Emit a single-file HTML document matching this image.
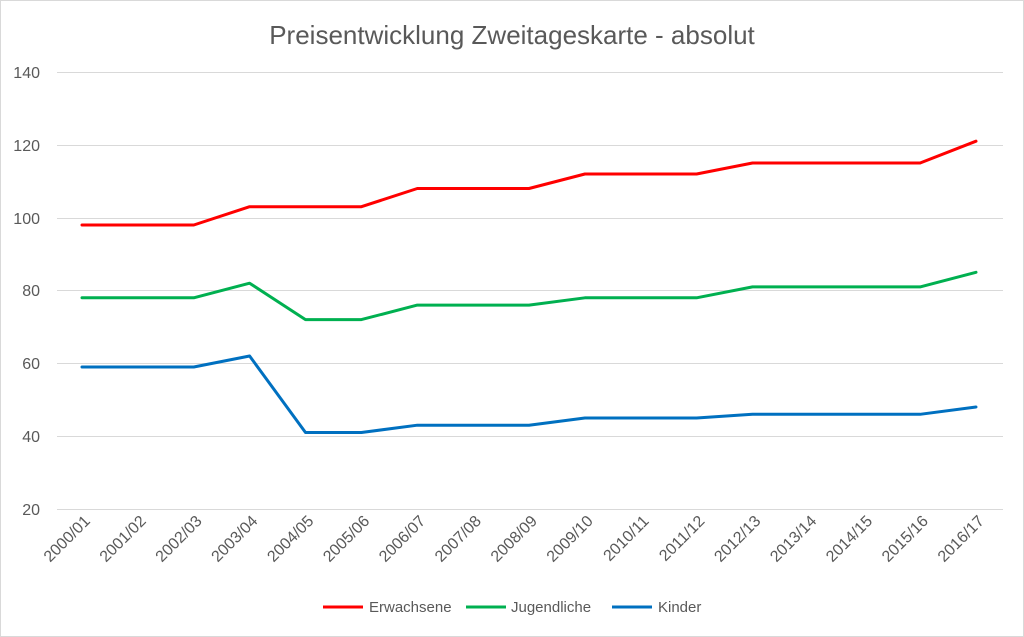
<!DOCTYPE html>
<html><head><meta charset="utf-8"><style>
html,body{margin:0;padding:0;background:#fff}
svg{display:block}
text{font-family:"Liberation Sans",sans-serif;fill:#595959}
</style></head><body>
<svg width="1024" height="637" viewBox="0 0 1024 637">
<rect x="0.5" y="0.5" width="1023" height="636" fill="#fff" stroke="#d9d9d9"/>
<text x="512" y="44" font-size="26" text-anchor="middle">Preisentwicklung Zweitageskarte - absolut</text>
<g stroke="#d9d9d9" stroke-width="1">
<line x1="57" x2="1003" y1="72.5" y2="72.5"/>
<line x1="57" x2="1003" y1="145.5" y2="145.5"/>
<line x1="57" x2="1003" y1="218.5" y2="218.5"/>
<line x1="57" x2="1003" y1="290.5" y2="290.5"/>
<line x1="57" x2="1003" y1="363.5" y2="363.5"/>
<line x1="57" x2="1003" y1="436.5" y2="436.5"/>
<line x1="57" x2="1003" y1="509.5" y2="509.5"/>
</g>
<g font-size="16" text-anchor="end">
<text x="40" y="78">140</text>
<text x="40" y="151">120</text>
<text x="40" y="224">100</text>
<text x="40" y="296">80</text>
<text x="40" y="369">60</text>
<text x="40" y="442">40</text>
<text x="40" y="515">20</text>
</g>
<g font-size="16" text-anchor="end">
<text transform="translate(91,522) rotate(-45)">2000/01</text>
<text transform="translate(146.9,522) rotate(-45)">2001/02</text>
<text transform="translate(202.8,522) rotate(-45)">2002/03</text>
<text transform="translate(258.6,522) rotate(-45)">2003/04</text>
<text transform="translate(314.5,522) rotate(-45)">2004/05</text>
<text transform="translate(370.4,522) rotate(-45)">2005/06</text>
<text transform="translate(426.3,522) rotate(-45)">2006/07</text>
<text transform="translate(482.1,522) rotate(-45)">2007/08</text>
<text transform="translate(538,522) rotate(-45)">2008/09</text>
<text transform="translate(593.9,522) rotate(-45)">2009/10</text>
<text transform="translate(649.8,522) rotate(-45)">2010/11</text>
<text transform="translate(705.6,522) rotate(-45)">2011/12</text>
<text transform="translate(761.5,522) rotate(-45)">2012/13</text>
<text transform="translate(817.4,522) rotate(-45)">2013/14</text>
<text transform="translate(873.3,522) rotate(-45)">2014/15</text>
<text transform="translate(929.1,522) rotate(-45)">2015/16</text>
<text transform="translate(985,522) rotate(-45)">2016/17</text>
</g>
<g fill="none" stroke-width="3" stroke-linejoin="round" stroke-linecap="round">
<polyline stroke="#ff0000" points="82,225 137.9,225 193.8,225 249.6,206.7 305.5,206.7 361.4,206.7 417.3,188.5 473.1,188.5 529,188.5 584.9,174 640.8,174 696.6,174 752.5,163 808.4,163 864.3,163 920.1,163 976,141.2"/>
<polyline stroke="#00b050" points="82,297.8 137.9,297.8 193.8,297.8 249.6,283.2 305.5,319.6 361.4,319.6 417.3,305.1 473.1,305.1 529,305.1 584.9,297.8 640.8,297.8 696.6,297.8 752.5,286.9 808.4,286.9 864.3,286.9 920.1,286.9 976,272.3"/>
<polyline stroke="#0070c0" points="82,367 137.9,367 193.8,367 249.6,356 305.5,432.5 361.4,432.5 417.3,425.2 473.1,425.2 529,425.2 584.9,418 640.8,418 696.6,418 752.5,414.3 808.4,414.3 864.3,414.3 920.1,414.3 976,407"/>
</g>
<g stroke-width="3">
<line x1="323" x2="363" y1="607" y2="607" stroke="#ff0000"/>
<line x1="466" x2="506" y1="607" y2="607" stroke="#00b050"/>
<line x1="612" x2="652" y1="607" y2="607" stroke="#0070c0"/>
</g>
<g font-size="15">
<text x="369" y="612">Erwachsene</text>
<text x="511" y="612">Jugendliche</text>
<text x="658" y="612">Kinder</text>
</g>
</svg>
</body></html>
